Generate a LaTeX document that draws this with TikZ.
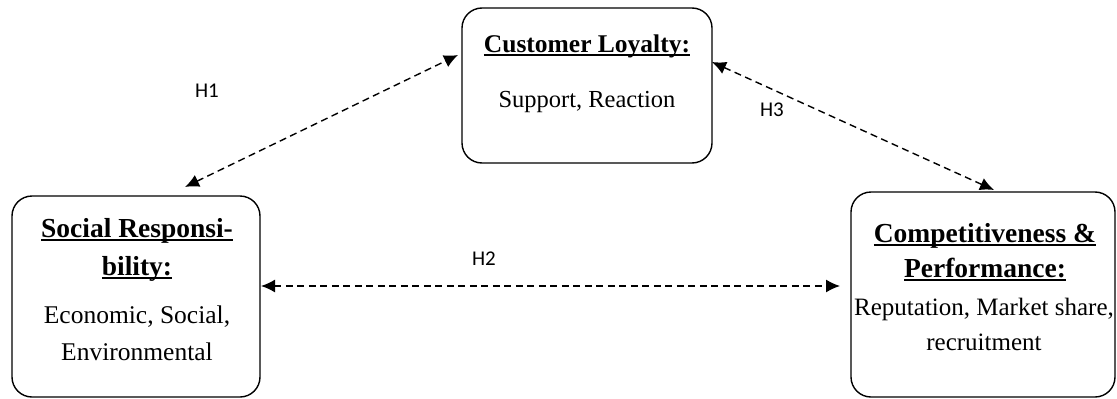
\documentclass[tikz,border=0pt]{standalone}
\usepackage{fontspec}
\setmainfont{Liberation Serif}
\newfontfamily\lblfont{Carlito}
\usetikzlibrary{arrows.meta}
% underline with a heavier rule
\newcommand\uln[1]{\setbox0\hbox{#1}\leavevmode\rlap{\rule[-4pt]{\wd0}{1.8pt}}\box0}
\begin{document}
\begin{tikzpicture}[x=1pt,y=-1pt,
  box/.style={draw, line width=1.4pt, rounded corners=20pt, inner sep=0pt},
  title/.style={font=\fontsize{27.5}{37}\selectfont\bfseries, anchor=base, align=center, inner sep=0pt},
  body/.style={font=\fontsize{25.5}{37}\selectfont, anchor=base, align=center, inner sep=0pt},
  hyp/.style={font=\lblfont\fontsize{21}{24}\selectfont, inner sep=0pt},
  link/.style={dashed, dash pattern=on 7pt off 4.5pt, line width=1.4pt,
    {Latex[length=14pt,width=13pt]}-{Latex[length=14pt,width=13pt]}}]
\useasboundingbox (0,0) rectangle (1117,399);

% boxes
\node[box, minimum width=250pt, minimum height=155pt] (cl) at (587,85.5) {};
\node[box, minimum width=248pt, minimum height=201pt] (sr) at (136,296.5) {};
\node[box, minimum width=264pt, minimum height=205pt] (cp) at (983,294.5) {};

% box texts
\node[title, font=\fontsize{25.5}{37}\selectfont\bfseries] (clT) at (587,52) {\uln{Customer Loyalty:}};
\node[body, font=\fontsize{24.5}{37}\selectfont] (clB) at (587,107) {Support, Reaction};

\node[title] (srT1) at (137,237) {\uln{Social Responsi-}};
\node[title] (srT2) at (137,275) {\uln{bility:}};
\node[body] (srB1) at (137,323) {Economic, Social,};
\node[body] (srB2) at (137,360) {Environmental};

\node[title] (cpT1) at (985,242) {\uln{Competitiveness \&}};
\node[title] (cpT2) at (985,277) {\uln{Performance:}};
\node[body, font=\fontsize{25}{37}\selectfont] (cpB1) at (984,315) {Reputation, Market share,};
\node[body, font=\fontsize{25}{37}\selectfont] (cpB2) at (984,350) {recruitment};

% connector end points
\coordinate (h1a) at (185,187);
\coordinate (h1b) at (458,55);
\coordinate (h3a) at (712,62);
\coordinate (h3b) at (994,190);
\coordinate (h2a) at (261,286);
\coordinate (h2b) at (840,286);

\draw[link] (h1a) -- (h1b);
\draw[link] (h3a) -- (h3b);
\draw[link] (h2a) -- (h2b);

% hypothesis labels
\node[hyp] (H1) at (207,90.5) {H1};
\node[hyp] (H2) at (484,258.5) {H2};
\node[hyp] (H3) at (772,110) {H3};
\end{tikzpicture}
\end{document}
